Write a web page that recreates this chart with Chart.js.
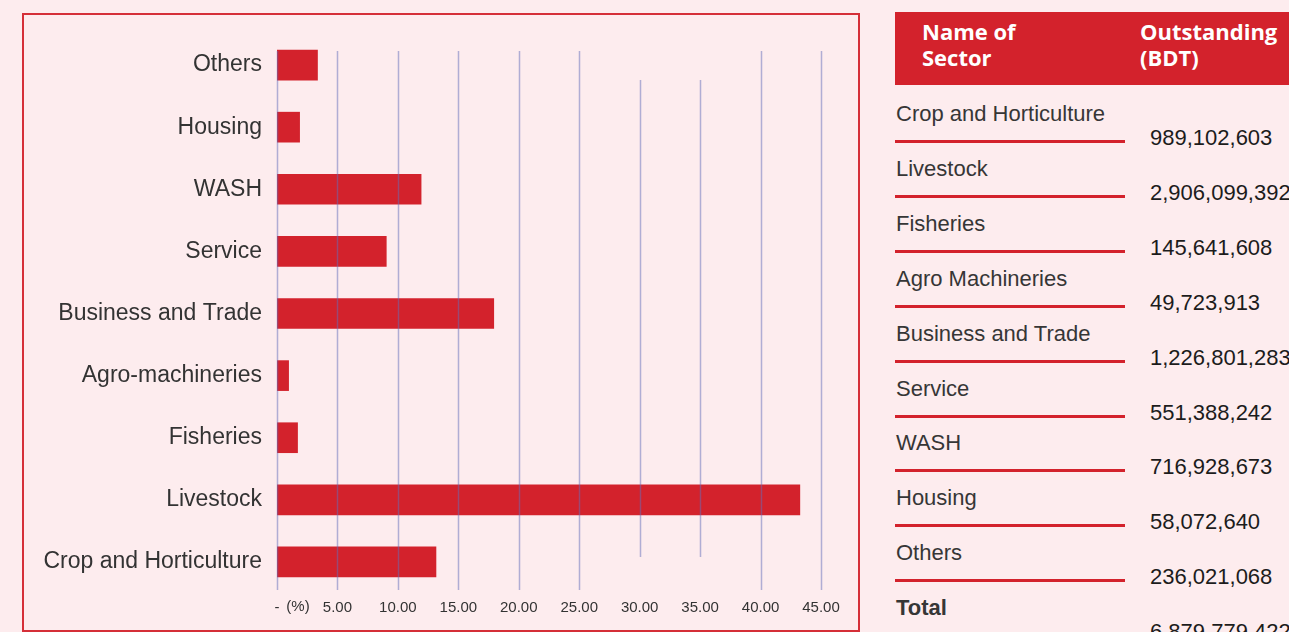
<!DOCTYPE html>
<html>
<head>
<meta charset="utf-8">
<script src="https://cdn.jsdelivr.net/npm/chart.js@4.4.0/dist/chart.umd.min.js"></script>
<style>
  body {
    margin: 0;
    width: 1289px;
    height: 632px;
    overflow: hidden;
    position: relative;
    background: #fdecee;
    font-family: "Liberation Sans", Arial, sans-serif;
  }
  #panel {
    position: absolute;
    left: 22px;
    top: 13px;
    width: 838px;
    height: 619px;
    box-sizing: border-box;
    border: 2px solid #d52f38;
  }
  #panel canvas { display: block; }

  .head {
    position: absolute;
    left: 895px;
    top: 12px;
    width: 394px;
    height: 73px;
    background: #d3222c;
    color: #fff;
    font-family: "Open Sans", sans-serif;
    font-weight: 700;
    font-size: 22px;
    line-height: 26px;
  }
  .head div { position: absolute; top: 6px; white-space: nowrap; }

  .row { position: absolute; left: 895px; width: 394px; height: 55px; }
  .row .name {
    position: absolute; left: 1px; top: 0;
    font-size: 22px; line-height: 24px; color: #363636; white-space: nowrap;
  }
  .row .rule {
    position: absolute; left: 0; top: 38px; width: 230px; height: 3px; background: #d3222c;
  }
  .row .val {
    position: absolute; left: 255px; top: 24px;
    font-size: 22px; line-height: 24px; color: #1c1c1c; white-space: nowrap;
  }
  .row.total .name { font-weight: 700; }
</style>
</head>
<body>

<div id="panel">
  <canvas id="sectorChart" width="834" height="615"></canvas>
</div>

<div class="head">
  <div style="left:27px">Name of<br>Sector</div>
  <div style="left:245px">Outstanding<br>(BDT)</div>
</div>
<div id="table"></div>

<script>
// chart: share of outstanding by sector (%), bottom to top
const sectors = ['Crop and Horticulture', 'Livestock', 'Fisheries', 'Agro-machineries',
                 'Business and Trade', 'Service', 'WASH', 'Housing', 'Others'];
const sharePct = [13.15, 43.25, 1.7, 0.96, 17.93, 9.04, 11.92, 1.87, 3.35];

// table on the right
const tableNames = ['Crop and Horticulture', 'Livestock', 'Fisheries', 'Agro Machineries',
                    'Business and Trade', 'Service', 'WASH', 'Housing', 'Others'];
const outstandingBdt = [989102603, 2906099392, 145641608, 49723913, 1226801283,
                        551388242, 716928673, 58072640, 236021068];
const totalBdt = 6879779422;

const barRed = '#d3222c';
const gridColor = 'rgba(100,110,185,0.5)';

// build table rows
const table = document.getElementById('table');
const rows = tableNames.map((n, i) => ({ name: n, value: outstandingBdt[i] }));
rows.push({ name: 'Total', value: totalBdt, total: true });
rows.forEach((r, i) => {
  const el = document.createElement('div');
  el.className = 'row' + (r.total ? ' total' : '');
  el.style.top = (102 + i * 54.9) + 'px';
  el.innerHTML = '<div class="name">' + r.name + '</div><div class="rule"></div>' +
                 '<div class="val">' + r.value.toLocaleString('en-US') + '</div>';
  table.appendChild(el);
});

// grid lines sit over the bars in the original, so draw them after datasets
const overGrid = {
  id: 'overGrid',
  afterDatasetsDraw(chart) {
    const { ctx, chartArea } = chart;
    const x = chart.scales.x, y = chart.scales.y;
    const topCenter = y.getPixelForValue(sectors.length - 1);
    const bottomCenter = y.getPixelForValue(0);
    ctx.save();
    ctx.strokeStyle = gridColor;
    ctx.lineWidth = 1.5;
    x.ticks.forEach(t => {
      const px = Math.round(x.getPixelForValue(t.value)) + 0.5;
      let y0 = topCenter - 14, y1 = chartArea.bottom - 3;
      if (t.value === 30 || t.value === 35) {
        y0 = topCenter + 15;
        y1 = bottomCenter - 5;
      }
      ctx.beginPath();
      ctx.moveTo(px, y0);
      ctx.lineTo(px, y1);
      ctx.stroke();
    });
    // unit marker next to the zero tick
    ctx.fillStyle = '#333';
    ctx.font = '15px "Liberation Sans", Arial, sans-serif';
    ctx.textAlign = 'center';
    ctx.textBaseline = 'top';
    ctx.fillText('(%)', x.getPixelForValue(0) + 21, chartArea.bottom + 6);
    ctx.restore();
  }
};

new Chart(document.getElementById('sectorChart'), {
  type: 'bar',
  data: {
    labels: sectors,
    datasets: [{
      data: sharePct,
      backgroundColor: barRed,
      borderWidth: 0,
      barThickness: 30
    }]
  },
  options: {
    indexAxis: 'y',
    responsive: false,
    animation: false,
    layout: { padding: { left: 0, right: 37, top: 19, bottom: 0 } },
    plugins: { legend: { display: false }, tooltip: { enabled: false } },
    scales: {
      x: {
        min: 0,
        max: 45,
        grid: { display: false, drawTicks: false },
        border: { display: false },
        ticks: {
          stepSize: 5,
          padding: 6,
          color: '#333',
          font: { family: '"Liberation Sans", Arial, sans-serif', size: 15 },
          maxRotation: 0,
          autoSkip: false,
          callback: v => v === 0 ? '-' : v.toFixed(2)
        },
        afterFit: s => { s.height = 37; }
      },
      y: {
        reverse: true,
        grid: { display: false, drawTicks: false },
        border: { display: false },
        ticks: {
          padding: 15,
          color: '#333',
          font: { family: '"Liberation Sans", Arial, sans-serif', size: 23 }
        },
        afterFit: s => { s.width = 253; s.paddingTop = 0; s.paddingBottom = 0; }
      }
    }
  },
  plugins: [overGrid]
});
</script>
</body>
</html>
